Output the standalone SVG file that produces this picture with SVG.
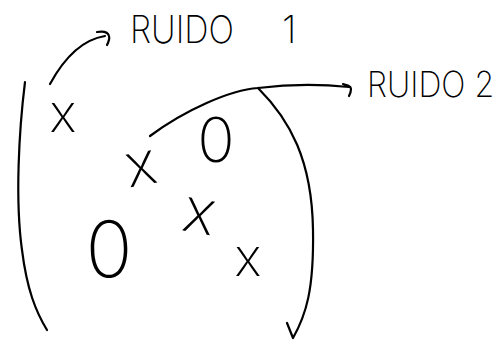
<svg xmlns="http://www.w3.org/2000/svg" width="504" height="340" viewBox="0 0 504 340">
<style>
.s{fill:none;stroke:#000;stroke-width:2.2;stroke-linecap:round;stroke-linejoin:round}
.lbl{font-family:Inter,"Liberation Sans",sans-serif;font-weight:200;fill:#000}
.m{font-family:Inter,"Liberation Sans",sans-serif;font-weight:200;fill:#000;text-anchor:middle}
</style>
<rect width="504" height="340" fill="#fff"/>
<g id="matrix">
<path class="s" d="M25,82 C19,130 15,200 22,250 C27,290 36,312 47,330"/>
<path class="s" d="M258,88 C290,120 312,160 313,230 C314,290 306,315 293,338 M287,323 L293,338"/>
<text class="m" x="63" y="132" font-size="52">x</text>
<text class="m" x="141" y="185" font-size="60" transform="rotate(-10 141 168)">x</text>
<text class="m" x="216" y="162" font-size="62">0</text>
<text class="m" x="199" y="233" font-size="62" transform="rotate(10 199 215)">x</text>
<text class="m" x="109" y="277" font-size="78">0</text>
<text class="m" x="248" y="276" font-size="52">x</text>
</g>
<g id="ruido1">
<text class="lbl" y="43" font-size="38"><tspan x="130" textLength="104" lengthAdjust="spacingAndGlyphs">RUIDO</tspan><tspan x="282">1</tspan></text>
</g>
<g id="ruido2">
<text class="lbl" x="0" y="0" font-size="32" transform="translate(367,97) scale(1,1.12)">RUIDO 2</text>
</g>
<g id="connectors">
<path class="s" d="M50,84 C62,62 80,40 105,36 M97,32 C103,31 108,32 109,36 C110,39 108,43 107,45"/>
<path class="s" d="M150,136 C185,110 230,90 258,88 C290,84 320,84 349,87 M343,84 C347,85 351,86 351,89 C351,92 350,94 349,96"/>
</g>
</svg>
